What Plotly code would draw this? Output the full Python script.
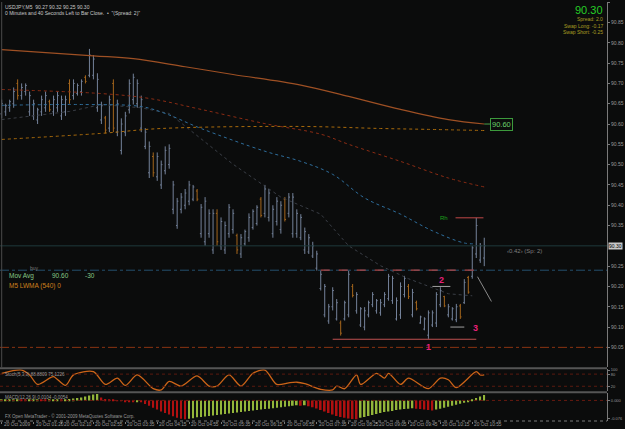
import plotly.graph_objects as go

# ---------------- data ----------------
bar_idx = list(range(122))

highs = [90.660, 90.650, 90.660, 90.690, 90.710, 90.700, 90.700, 90.680, 90.660, 90.640,
         90.670, 90.680, 90.660, 90.670, 90.680, 90.670, 90.670, 90.710, 90.710, 90.700,
         90.710, 90.720, 90.785, 90.770, 90.725, 90.655, 90.620, 90.670, 90.710, 90.660,
         90.614, 90.630, 90.710, 90.724, 90.710, 90.670, 90.590, 90.557, 90.530, 90.530,
         90.510, 90.545, 90.550, 90.460, 90.418, 90.430, 90.440, 90.460, 90.450, 90.440,
         90.403, 90.420, 90.390, 90.390, 90.390, 90.370, 90.360, 90.403, 90.390, 90.330,
         90.329, 90.340, 90.380, 90.390, 90.400, 90.420, 90.450, 90.440, 90.400, 90.420,
         90.410, 90.420, 90.430, 90.430, 90.390, 90.378, 90.345, 90.329, 90.310, 90.288,
         90.239, 90.206, 90.157, 90.198, 90.169, 90.116, 90.165, 90.239, 90.206, 90.186,
         90.149, 90.149, 90.165, 90.186, 90.169, 90.169, 90.186, 90.231, 90.226, 90.173,
         90.210, 90.226, 90.206, 90.194, 90.165, 90.128, 90.124, 90.141, 90.141, 90.186,
         90.198, 90.177, 90.157, 90.149, 90.157, 90.157, 90.218, 90.226, 90.300, 90.369,
         90.307, 90.320]
lows = [90.614, 90.620, 90.630, 90.640, 90.660, 90.660, 90.670, 90.620, 90.610, 90.600,
        90.620, 90.630, 90.630, 90.620, 90.630, 90.610, 90.620, 90.650, 90.660, 90.670,
        90.670, 90.700, 90.715, 90.710, 90.630, 90.600, 90.577, 90.580, 90.580, 90.570,
        90.525, 90.570, 90.626, 90.648, 90.640, 90.580, 90.538, 90.467, 90.470, 90.460,
        90.440, 90.476, 90.490, 90.378, 90.342, 90.380, 90.390, 90.400, 90.410, 90.410,
        90.320, 90.300, 90.320, 90.280, 90.300, 90.290, 90.280, 90.320, 90.330, 90.280,
        90.270, 90.300, 90.310, 90.340, 90.350, 90.370, 90.370, 90.360, 90.320, 90.350,
        90.330, 90.360, 90.370, 90.320, 90.320, 90.314, 90.280, 90.280, 90.270, 90.239,
        90.190, 90.124, 90.108, 90.141, 90.116, 90.079, 90.116, 90.124, 90.173, 90.133,
        90.100, 90.092, 90.124, 90.149, 90.133, 90.128, 90.149, 90.165, 90.157, 90.116,
        90.120, 90.173, 90.169, 90.124, 90.141, 90.108, 90.092, 90.071, 90.100, 90.100,
        90.149, 90.149, 90.124, 90.116, 90.112, 90.120, 90.157, 90.182, 90.219, 90.270,
        90.258, 90.250]
opens = [90.625, 90.630, 90.640, 90.650, 90.700, 90.670, 90.680, 90.630, 90.620, 90.610,
         90.630, 90.640, 90.655, 90.630, 90.640, 90.620, 90.630, 90.700, 90.670, 90.675,
         90.680, 90.715, 90.720, 90.720, 90.640, 90.610, 90.615, 90.590, 90.700, 90.580,
         90.535, 90.580, 90.635, 90.660, 90.650, 90.590, 90.545, 90.480, 90.520, 90.470,
         90.450, 90.485, 90.500, 90.390, 90.350, 90.390, 90.400, 90.410, 90.415, 90.435,
         90.330, 90.310, 90.330, 90.290, 90.380, 90.300, 90.290, 90.330, 90.340, 90.325,
         90.280, 90.305, 90.320, 90.345, 90.355, 90.415, 90.380, 90.370, 90.330, 90.360,
         90.340, 90.415, 90.380, 90.330, 90.330, 90.320, 90.290, 90.285, 90.275, 90.245,
         90.195, 90.130, 90.115, 90.150, 90.120, 90.110, 90.120, 90.130, 90.200, 90.140,
         90.105, 90.100, 90.130, 90.155, 90.140, 90.135, 90.155, 90.170, 90.165, 90.120,
         90.130, 90.180, 90.200, 90.130, 90.160, 90.110, 90.095, 90.080, 90.105, 90.110,
         90.155, 90.175, 90.130, 90.120, 90.118, 90.152, 90.160, 90.222, 90.225, 90.280,
         90.265, 90.270]
closes = [90.650, 90.645, 90.655, 90.680, 90.670, 90.690, 90.695, 90.670, 90.650, 90.635,
          90.660, 90.670, 90.635, 90.660, 90.670, 90.660, 90.660, 90.660, 90.700, 90.695,
          90.705, 90.705, 90.770, 90.760, 90.710, 90.645, 90.585, 90.660, 90.590, 90.650,
          90.600, 90.620, 90.700, 90.715, 90.700, 90.660, 90.580, 90.545, 90.480, 90.520,
          90.500, 90.535, 90.540, 90.450, 90.410, 90.420, 90.430, 90.450, 90.445, 90.415,
          90.395, 90.410, 90.380, 90.380, 90.310, 90.360, 90.350, 90.395, 90.380, 90.290,
          90.320, 90.335, 90.370, 90.385, 90.395, 90.375, 90.440, 90.430, 90.390, 90.410,
          90.400, 90.365, 90.420, 90.420, 90.380, 90.370, 90.335, 90.320, 90.300, 90.280,
          90.230, 90.200, 90.150, 90.190, 90.160, 90.085, 90.160, 90.230, 90.178, 90.180,
          90.145, 90.140, 90.160, 90.180, 90.165, 90.160, 90.180, 90.225, 90.220, 90.165,
          90.200, 90.220, 90.175, 90.185, 90.145, 90.125, 90.120, 90.135, 90.135, 90.180,
          90.190, 90.152, 90.150, 90.145, 90.150, 90.125, 90.210, 90.186, 90.295, 90.350,
          90.300, 90.300]

# moving averages (sparse points)
lwma_idx = [0, 23, 33, 46, 58, 75, 87, 100, 112, 121]
lwma_val = [90.783, 90.768, 90.761, 90.741, 90.722, 90.696, 90.668, 90.636, 90.611, 90.600]
ma_orange_idx = [0, 25, 40, 75, 95, 106, 121]
ma_orange_val = [90.562, 90.577, 90.589, 90.594, 90.589, 90.587, 90.584]
ma_red_idx = [0, 25, 37, 50, 66, 80, 87, 100, 112, 121]
ma_red_val = [90.685, 90.675, 90.663, 90.636, 90.601, 90.575, 90.550, 90.508, 90.467, 90.445]
ma_blue_idx = [0, 21, 35, 41, 50, 66, 75, 83, 91, 100, 108, 116, 119]
ma_blue_val = [90.646, 90.648, 90.643, 90.626, 90.589, 90.533, 90.508, 90.476, 90.418, 90.378, 90.337, 90.307, 90.305]
ma_gray_idx = [0, 17, 25, 35, 42, 58, 70, 80, 87, 95, 102, 112, 118]
ma_gray_val = [90.611, 90.631, 90.648, 90.640, 90.626, 90.501, 90.420, 90.378, 90.300, 90.251, 90.219, 90.182, 90.177]

# price levels
price_now = 90.30
level_buy = 90.24
level_stop = 90.05
box_low = 90.07
box_start, box_end = 80, 119
pt2_price, pt2_from, pt2_to = 90.20, 108, 112.5
pt3_price, pt3_from, pt3_to = 90.10, 112.5, 116
rh_price, rh_from, rh_to = 90.369, 113.8, 120.8
proj_idx = [119.3, 122.8]
proj_val = [90.224, 90.163]

# stochastic
stoch_idx = [0, 5, 7, 9, 12, 13, 16, 18, 23, 26, 29, 31, 34, 38, 40, 42, 45, 49, 52, 54,
             57, 60, 63, 66, 69, 72, 74, 76, 80, 83, 84, 86, 89, 90, 94, 96, 97, 100, 102, 107,
             110, 112, 114, 119, 120, 121]
stoch_val = [84, 100, 76, 29, 60, 68, 24, 76, 92, 29, 60, 24, 76, 8, 2, 44, 21, 71, 21, 21,
             76, 21, 84, 100, 29, 37, 40, 33, 5, 2, 21, 8, 76, 29, 84, 60, 84, 29, 60, 8,
             60, 52, 13, 92, 76, 76]
stoch_levels = [80, 20]

# MACD histogram
macd_hist = [0.002, 0.003, 0.004, 0.004, 0.005, 0.004, 0.003, 0.004, 0.005, 0.005, 0.004,
             0.003, 0.004, 0.005, 0.005, 0.004, 0.005, 0.006, 0.008, 0.010, 0.012,
             0.016, 0.020, 0.024, 0.026,
             0.012, 0.006, 0.004, 0.002, -0.002, -0.003,
             -0.004, -0.006, -0.008, -0.006, -0.008,
             -0.015, -0.022, -0.030, -0.038, -0.046, -0.052, -0.058, -0.065, -0.072, -0.076, -0.078,
             -0.076, -0.074, -0.070, -0.068, -0.066, -0.064, -0.062, -0.060,
             -0.058, -0.056, -0.054, -0.052, -0.050, -0.048, -0.046, -0.044, -0.042, -0.040,
             -0.038, -0.036, -0.034, -0.032, -0.030, -0.028, -0.026, -0.024, -0.022,
             -0.020, -0.022, -0.020, -0.024,
             -0.028, -0.033, -0.040, -0.046, -0.052, -0.058, -0.064, -0.068, -0.072, -0.075, -0.077, -0.078,
             -0.072, -0.068, -0.064, -0.060, -0.056, -0.052, -0.048, -0.046, -0.044, -0.040,
             -0.038, -0.036, -0.034, -0.032,
             -0.034, -0.036, -0.038, -0.040, -0.042,
             -0.038, -0.034, -0.030, -0.026, -0.022, -0.018, -0.014, -0.010, -0.004,
             0.004, 0.010, 0.016, 0.022]

# axis labels
price_ticks = [90.90, 90.85, 90.80, 90.75, 90.70, 90.65, 90.60, 90.55, 90.50, 90.45, 90.40,
               90.35, 90.25, 90.20, 90.15, 90.10, 90.05]
xtick_idx = [0, 8, 15, 23, 31, 39, 47, 55, 63, 71, 79, 87, 94, 102, 110, 118]
xtick_text = ["20 Oct 2009", "20 Oct 01:20", "20 Oct 02:10", "20 Oct 02:55", "20 Oct 03:35",
              "20 Oct 04:15", "20 Oct 04:55", "20 Oct 05:35", "20 Oct 06:15", "20 Oct 06:55",
              "20 Oct 07:35", "20 Oct 08:25", "20 Oct 09:05", "20 Oct 09:45", "20 Oct 10:15",
              "20 Oct 10:55"]

# ---------------- figure ----------------
W, H = 625, 429
MR, MB = 18, 8
PW, PH = W - MR, H - MB
BG = '#0b0c0c'
FONT = 'Liberation Sans'
AX = '#9a9a9a'


def fx(p):
    return p / PW


def fy(p):
    return (PH - p) / PH


fig = go.Figure()

fig.add_trace(go.Ohlc(
    x=bar_idx, open=opens, high=highs, low=lows, close=closes,
    increasing=dict(line=dict(color='#74829a', width=1)),
    decreasing=dict(line=dict(color='#a5661c', width=1)),
    tickwidth=0.3, xaxis='x', yaxis='y', hoverinfo='skip'))

fig.add_trace(go.Scatter(x=ma_gray_idx, y=ma_gray_val, mode='lines',
                         line=dict(color='#3a3e46', width=1, dash='dot')))
fig.add_trace(go.Scatter(x=ma_blue_idx, y=ma_blue_val, mode='lines',
                         line=dict(color='#2f6e9c', width=1, dash='dot', shape='spline')))
fig.add_trace(go.Scatter(x=ma_red_idx, y=ma_red_val, mode='lines',
                         line=dict(color='#8b2c14', width=1, dash='dot', shape='spline')))
fig.add_trace(go.Scatter(x=ma_orange_idx, y=ma_orange_val, mode='lines',
                         line=dict(color='#a86a0c', width=1, dash='dot', shape='spline')))
fig.add_trace(go.Scatter(x=lwma_idx, y=lwma_val, mode='lines',
                         line=dict(color='#9e5024', width=1.2, shape='spline')))
fig.add_trace(go.Scatter(x=proj_idx, y=proj_val, mode='lines',
                         line=dict(color='#8a8a8a', width=1)))

fig.add_trace(go.Scatter(x=stoch_idx, y=stoch_val, mode='lines', yaxis='y2',
                         line=dict(color='#cc6418', width=1.3, shape='spline', smoothing=0.8)))

macd_colors = ['#93b53a' if (k == 0 or v >= macd_hist[k - 1]) else '#b01010'
               for k, v in enumerate(macd_hist)]
fig.add_trace(go.Bar(x=bar_idx, y=macd_hist, marker=dict(color=macd_colors, line=dict(width=0)),
                     width=0.42, yaxis='y3'))

shapes = []
shapes.append(dict(type='line', xref='paper', yref='y', x0=0, x1=1, y0=price_now, y1=price_now,
                   line=dict(color='#1f3a3c', width=1)))
shapes.append(dict(type='line', xref='paper', yref='y', x0=0, x1=1, y0=level_buy, y1=level_buy,
                   line=dict(color='#24506e', width=1, dash='dashdot')))
shapes.append(dict(type='line', xref='paper', yref='y', x0=0, x1=1, y0=level_stop, y1=level_stop,
                   line=dict(color='#8a3412', width=1, dash='dashdot')))
shapes.append(dict(type='line', xref='x', yref='y', x0=box_start, x1=box_end, y0=level_buy, y1=level_buy,
                   line=dict(color='#b04848', width=1.2, dash='dash')))
shapes.append(dict(type='line', xref='x', yref='y', x0=box_start + 3, x1=box_end, y0=box_low, y1=box_low,
                   line=dict(color='#c05050', width=1.2)))
shapes.append(dict(type='line', xref='x', yref='y', x0=pt2_from, x1=pt2_to, y0=pt2_price, y1=pt2_price,
                   line=dict(color='#a0a0a0', width=1)))
shapes.append(dict(type='line', xref='x', yref='y', x0=pt3_from, x1=pt3_to, y0=pt3_price, y1=pt3_price,
                   line=dict(color='#a0a0a0', width=1)))
shapes.append(dict(type='line', xref='x', yref='y', x0=rh_from, x1=rh_to, y0=rh_price, y1=rh_price,
                   line=dict(color='#c04848', width=1)))
shapes.append(dict(type='line', xref='x', yref='y', x0=lwma_idx[-1], x1=lwma_idx[-1] + 1.6,
                   y0=lwma_val[-1], y1=lwma_val[-1], line=dict(color='#4aa04a', width=1)))
shapes.append(dict(type='line', xref='x', yref='paper', x0=0, x1=0, y0=fy(367), y1=1,
                   line=dict(color='#4a4a4a', width=1)))
for lv in stoch_levels:
    shapes.append(dict(type='line', xref='paper', yref='y2', x0=0, x1=1, y0=lv, y1=lv,
                       line=dict(color='#5a1a10', width=1, dash='dot')))
shapes.append(dict(type='line', xref='paper', yref='y3', x0=0, x1=1, y0=0, y1=0,
                   line=dict(color='#6a1a10', width=1, dash='dot')))
for ys in (368, 392):
    shapes.append(dict(type='line', xref='paper', yref='paper', x0=0, x1=1, y0=fy(ys), y1=fy(ys),
                       line=dict(color='#555555', width=2)))
shapes.append(dict(type='line', xref='paper', yref='paper', x0=0, x1=1, y0=0, y1=0,
                   line=dict(color='#7a7a7a', width=1, dash='dot')))


def txt(s, x, y, size=5, color='#b0b0b0', xanchor='left', **kw):
    d = dict(text=s, x=fx(x), y=fy(y), xref='paper', yref='paper', showarrow=False,
             xanchor=xanchor, yanchor='middle', font=dict(family=FONT, size=size, color=color))
    d.update(kw)
    return d


ann = []
ann.append(txt("USDJPY,M5  90.27 90.32 90.25 90.30", 3, 5, 5, '#c8c8c8'))
ann.append(txt("0 Minutes and 40 Seconds Left to Bar Close.  \u2022  \"(Spread: 2)\"", 3, 11, 5, '#c8c8c8'))
ann.append(txt("90.30", 605, 8, 11, '#26cc26', xanchor='right'))
ann.append(txt("Spread: 2.0", 605, 17, 5, '#a89e22', xanchor='right'))
ann.append(txt("Swap Long: -0.17", 605, 24, 5, '#a89e22', xanchor='right'))
ann.append(txt("Swap Short: -0.25", 605, 30, 5, '#a89e22', xanchor='right'))
ann.append(txt("buy", 28, 267, 5, '#7a7a7a'))
ann.append(txt("Mov Avg", 7, 275, 6.5, '#86c886'))
ann.append(txt("90.60", 50, 275, 6.5, '#86c886'))
ann.append(txt("-30", 83, 275, 6.5, '#86c886'))
ann.append(txt("M5 LWMA (540) 0", 7, 285, 6.5, '#d0801c'))
ann.append(txt("\u20390.42\u203a (Sp: 2)", 505, 250, 6, '#7e7e7e'))
ann.append(txt("Stoch(5,3,3) 88.8809 75.1226", 3, 374, 4.5, '#9a9a9a'))
ann.append(txt("MACD(12,26,9) 0.0104 -0.0054", 3, 397, 4.5, '#9a9a9a'))
ann.append(txt("FX Open MetaTrader - \u00a9 2001-2009 MetaQuotes Software Corp.", 3, 416, 4.5, '#9a9a9a'))

ann.append(dict(text=f"{lwma_val[-1]:.2f}", x=lwma_idx[-1], y=lwma_val[-1], xref='x', yref='y',
                showarrow=False, xanchor='left', yanchor='middle', xshift=6,
                font=dict(family=FONT, size=7.5, color='#6ad06a'),
                bordercolor='#3c9a3c', borderwidth=1, borderpad=1, bgcolor=BG))
ann.append(dict(text="Rh", x=rh_from - 3, y=rh_price, xref='x', yref='y', showarrow=False,
                xanchor='center', yanchor='middle', font=dict(family=FONT, size=6, color='#1aa01a')))
for label, xi, yv in (("2", 110.2, 90.217), ("3", 118.9, 90.097), ("1", 107.1, 90.05)):
    ann.append(dict(text=f"<b>{label}</b>", x=xi, y=yv, xref='x', yref='y', showarrow=False,
                    xanchor='center', yanchor='middle',
                    font=dict(family=FONT, size=9, color='#e8207a')))
ann.append(dict(text=f"{price_now:.2f}", x=fx(608), y=price_now, xref='paper', yref='y',
                showarrow=False, xanchor='left', yanchor='middle', bgcolor='#c8c8c8',
                borderpad=0, font=dict(family=FONT, size=5, color='#000000')))
for xi, t in zip(xtick_idx, xtick_text):
    ann.append(dict(text=t, x=xi, y=fy(425), xref='x', yref='paper', showarrow=False,
                    xanchor='left', yanchor='middle', font=dict(family=FONT, size=4.8, color=AX)))

fig.update_layout(
    width=W, height=H, margin=dict(l=0, r=MR, t=0, b=MB),
    paper_bgcolor=BG, plot_bgcolor=BG, showlegend=False, hovermode=False,
    shapes=shapes, annotations=ann,
    xaxis=dict(range=[-0.426, 151.78], showgrid=False, zeroline=False, showticklabels=False,
               rangeslider=dict(visible=False), anchor='y3', tickvals=xtick_idx,
               ticks='outside', ticklen=2, tickcolor='#7a7a7a', showline=False),
    yaxis=dict(domain=[fy(367), 1], range=[90.001, 90.9005], side='right', anchor='x',
               tickvals=price_ticks, ticktext=[f"{v:.2f}" for v in price_ticks],
               tickfont=dict(family=FONT, size=5, color=AX), ticks='outside', ticklen=2,
               tickcolor='#7a7a7a', showgrid=False, zeroline=False, showline=True,
               linecolor='#7a7a7a', linewidth=1),
    yaxis2=dict(domain=[fy(391), fy(369)], range=[-4, 104], side='right', anchor='x',
                tickvals=[100, 80, 20], tickfont=dict(family=FONT, size=4, color=AX),
                ticks='outside', ticklen=2, tickcolor='#7a7a7a', showgrid=False, zeroline=False,
                showline=True, linecolor='#7a7a7a', linewidth=1),
    yaxis3=dict(domain=[0, fy(393)], range=[-0.085, 0.03], side='right', anchor='x',
                tickvals=[0.0, -0.076], ticktext=["0.000", "-0.076"],
                tickfont=dict(family=FONT, size=4, color=AX), ticks='outside', ticklen=2,
                tickcolor='#7a7a7a', showgrid=False, zeroline=False, showline=True,
                linecolor='#7a7a7a', linewidth=1),
)

fig.write_html("out.html")
